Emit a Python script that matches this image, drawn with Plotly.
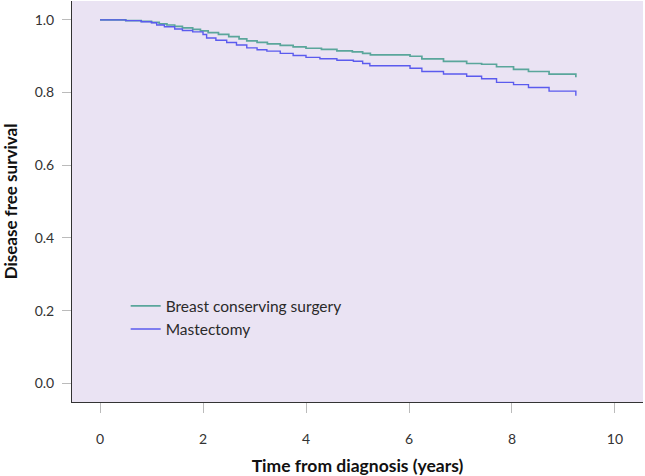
import plotly.graph_objects as go

# Kaplan-Meier step data
bcs_time = [0, 0.5, 0.8, 1.0, 1.15, 1.3, 1.45, 1.6, 1.8, 1.95, 2.1, 2.3, 2.5, 2.7, 2.85,
            3.05, 3.25, 3.5, 3.75, 4.0, 4.3, 4.6, 4.9, 5.1, 5.25, 6.02, 6.25, 6.67, 7.12,
            7.41, 7.70, 8.03, 8.32, 8.72, 9.24, 9.24]
bcs_surv = [1.0, 0.998, 0.996, 0.993, 0.989, 0.986, 0.982, 0.978, 0.974, 0.970, 0.965, 0.960,
            0.954, 0.948, 0.942, 0.938, 0.934, 0.930, 0.926, 0.922, 0.919, 0.915, 0.912, 0.908,
            0.904, 0.900, 0.893, 0.886, 0.880, 0.878, 0.871, 0.864, 0.858, 0.851, 0.851, 0.842]

mast_time = [0, 0.5, 0.8, 1.0, 1.1, 1.25, 1.45, 1.6, 1.8, 2.0, 2.07, 2.25, 2.46, 2.65, 2.85,
             3.05, 3.24, 3.5, 3.75, 4.0, 4.27, 4.6, 4.92, 5.1, 5.24, 6.02, 6.25, 6.67, 7.12,
             7.41, 7.70, 8.03, 8.32, 8.72, 9.24, 9.24]
mast_surv = [1.0, 0.998, 0.995, 0.992, 0.986, 0.981, 0.975, 0.971, 0.967, 0.960, 0.950, 0.944,
             0.938, 0.931, 0.923, 0.918, 0.914, 0.908, 0.902, 0.897, 0.893, 0.889, 0.886, 0.880,
             0.874, 0.867, 0.858, 0.851, 0.845, 0.838, 0.828, 0.822, 0.814, 0.804, 0.804, 0.791]

series_names = ["Breast conserving surgery", "Mastectomy"]
x_ticks = [0, 2, 4, 6, 8, 10]
y_ticks = [0.0, 0.2, 0.4, 0.6, 0.8, 1.0]

FONT = "Lato"

fig = go.Figure()
fig.add_trace(go.Scatter(x=bcs_time, y=bcs_surv, mode="lines", line_shape="hv",
                         name=series_names[0], line=dict(color="#5AA69B", width=1.7)))
fig.add_trace(go.Scatter(x=mast_time, y=mast_surv, mode="lines", line_shape="hv",
                         name=series_names[1], line=dict(color="#5B5BEE", width=1.4)))

fig.update_layout(
    width=645, height=476,
    margin=dict(l=72, r=2, t=1, b=74),
    paper_bgcolor="white",
    plot_bgcolor="#EAE3F3",
    font=dict(family=FONT, size=14, color="#333333"),
    showlegend=True,
    legend=dict(x=0.094, y=0.281, xanchor="left", yanchor="top",
                bgcolor="rgba(0,0,0,0)", font=dict(family=FONT, size=15.5, color="#2a2a2a"),
                tracegroupgap=0),
)
fig.update_xaxes(
    range=[-0.544, 10.544], tickvals=x_ticks, ticktext=[str(v) for v in x_ticks],
    showgrid=False, zeroline=False, automargin=False,
    showline=True, linecolor="#333333", linewidth=1, mirror=False,
    ticks="outside", ticklen=10, tickcolor="#BBBBBB", tickwidth=1,
    ticklabelstandoff=14,
    title=dict(text="<b>Time from diagnosis (years)</b>", font=dict(family=FONT, size=17.5, color="#111111"), standoff=13),
)
fig.update_yaxes(
    range=[-0.0515, 1.052], tickvals=y_ticks, ticktext=[f"{v:.1f}" for v in y_ticks],
    showgrid=False, zeroline=False, automargin=False,
    showline=True, linecolor="#333333", linewidth=1, mirror=False,
    ticks="outside", ticklen=9, tickcolor="#BBBBBB", tickwidth=1,
    ticklabelstandoff=5,
    title=dict(text="<b>Disease free survival</b>", font=dict(family=FONT, size=17, color="#111111"), standoff=13),
)

fig.write_html("out.html", config={"displayModeBar": False},
               post_script="document.body.style.margin='0px';")
